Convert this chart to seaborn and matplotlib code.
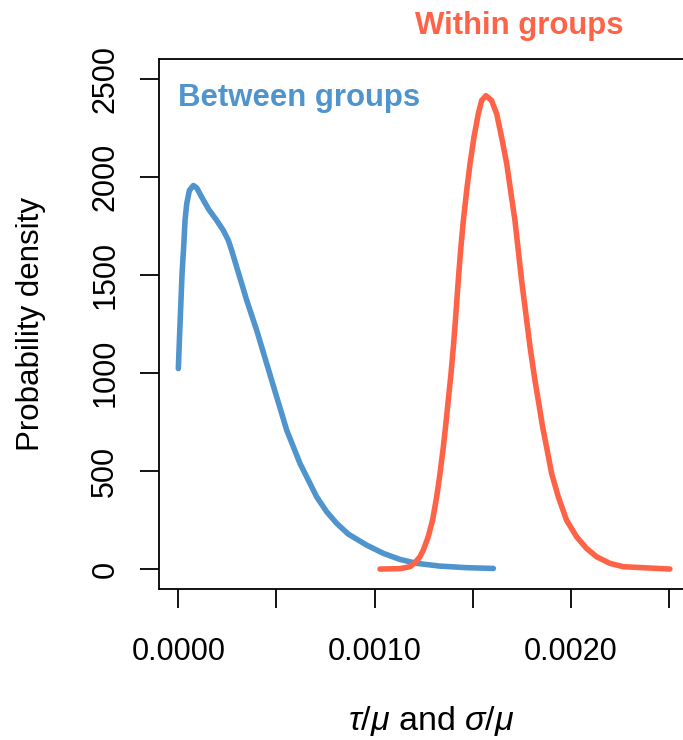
import matplotlib
matplotlib.use("Agg")
import matplotlib.pyplot as plt
import seaborn as sns
import pandas as pd

# posterior density of tau/mu (between groups)
between_x = [0.0, 0.0000053, 0.0000121, 0.0000189, 0.0000290, 0.0000341, 0.0000427, 0.0000562,
             0.0000766, 0.0000936, 0.0001191, 0.0001531, 0.0001956, 0.0002295, 0.0002550,
             0.0002720, 0.0002975, 0.0003230, 0.0003485, 0.0003824, 0.0003994, 0.0004249,
             0.0004504, 0.0004759, 0.0005014, 0.0005269, 0.0005524, 0.0005863, 0.0006203,
             0.0006628, 0.0007052, 0.0007562, 0.0008072, 0.0008666, 0.000960, 0.001045,
             0.001130, 0.001215, 0.001334, 0.001470, 0.001606]
between_y = [1022, 1166, 1336, 1505, 1675, 1777, 1862, 1930,
             1955, 1943, 1896, 1836, 1777, 1726, 1675,
             1624, 1539, 1455, 1370, 1268, 1217, 1132,
             1047, 962, 877, 793, 708, 623, 538,
             453, 368, 292, 233, 178, 122, 80,
             49, 29, 15, 7, 3]

# posterior density of sigma/mu (within groups)
within_x = [0.001028, 0.001130, 0.001181, 0.001206, 0.001232, 0.001249, 0.001274, 0.001296,
            0.001317, 0.001334, 0.001351, 0.001364, 0.001376, 0.001390, 0.001402, 0.001415,
            0.001427, 0.001439, 0.001453, 0.001470, 0.001487, 0.001507, 0.001529, 0.001546,
            0.001568, 0.001597, 0.001623, 0.001648, 0.001674, 0.001716, 0.001750, 0.001793,
            0.001818, 0.001835, 0.001857, 0.001877, 0.001903, 0.001937, 0.001979, 0.002030,
            0.002081, 0.002132, 0.002200, 0.002268, 0.002506]
within_y = [0, 2, 12, 32, 63, 97, 165, 249,
            368, 487, 623, 742, 860, 996, 1132, 1302,
            1471, 1624, 1777, 1930, 2066, 2201, 2320, 2388,
            2413, 2388, 2320, 2201, 2066, 1777, 1471, 1132,
            962, 860, 725, 623, 487, 368, 249, 165,
            105, 63, 29, 12, 0]

x_ticks = [0.0, 0.0005, 0.0010, 0.0015, 0.0020, 0.0025]
x_ticklabels = ["0.0000", "", "0.0010", "", "0.0020", ""]
y_ticks = [0, 500, 1000, 1500, 2000, 2500]

blue = "#4F94CD"
red = "#FF6347"

sns.set_style("ticks")
plt.rcParams["font.family"] = ["Liberation Sans", "DejaVu Sans"]
plt.rcParams["mathtext.fontset"] = "custom"
plt.rcParams["mathtext.it"] = "Liberation Sans:italic"
plt.rcParams["mathtext.rm"] = "Liberation Sans"
plt.rcParams["text.color"] = "black"
plt.rcParams["axes.labelcolor"] = "black"

between = pd.DataFrame({"x": between_x, "y": between_y})
within = pd.DataFrame({"x": within_x, "y": within_y})

fig = plt.figure(figsize=(6.83, 7.40), dpi=100)
# box runs past the right edge of the picture, as in the original (cropped)
ax = fig.add_axes([0.2324, 0.2045, 0.7852, 0.7158])

sns.lineplot(data=between, x="x", y="y", color=blue, lw=4, estimator=None,
             sort=False, ax=ax, solid_capstyle="round", solid_joinstyle="round")
sns.lineplot(data=within, x="x", y="y", color=red, lw=4, estimator=None,
             sort=False, ax=ax, solid_capstyle="round", solid_joinstyle="round")

ax.set_xlim(-0.0001, 0.002634)
ax.set_ylim(-100, 2600)
ax.set_xticks(x_ticks)
ax.set_xticklabels(x_ticklabels)
ax.set_yticks(y_ticks)
ax.set_yticklabels([str(v) for v in y_ticks], rotation=90, va="center")

for s in ax.spines.values():
    s.set_linewidth(1.3)
    s.set_color("black")
ax.spines["right"].set_visible(False)
ax.tick_params(axis="both", direction="out", length=13.7, width=1.3, labelsize=22,
               color="black", labelcolor="black")
ax.tick_params(axis="x", pad=21)
ax.tick_params(axis="y", pad=14)

ax.set_xlabel(r"$τ/μ$ and $σ/μ$", fontsize=24.5)
ax.set_ylabel("Probability density", fontsize=22.5)
ax.xaxis.label.set_va("center")
ax.yaxis.label.set_va("center")
ax.xaxis.set_label_coords((431 - 158.7) / 536.3, -0.25)
ax.yaxis.set_label_coords(-0.241 * 529.7 / 536.3, 0.5)

ax.text(0.0, 2362, "Between groups", color=blue, fontsize=22.4, fontweight="bold",
        ha="left", va="baseline")
ax.text(0.001206, 2729, "Within groups", color=red, fontsize=22.4, fontweight="bold",
        ha="left", va="baseline", clip_on=False)

fig.savefig("out.png", dpi=100)
